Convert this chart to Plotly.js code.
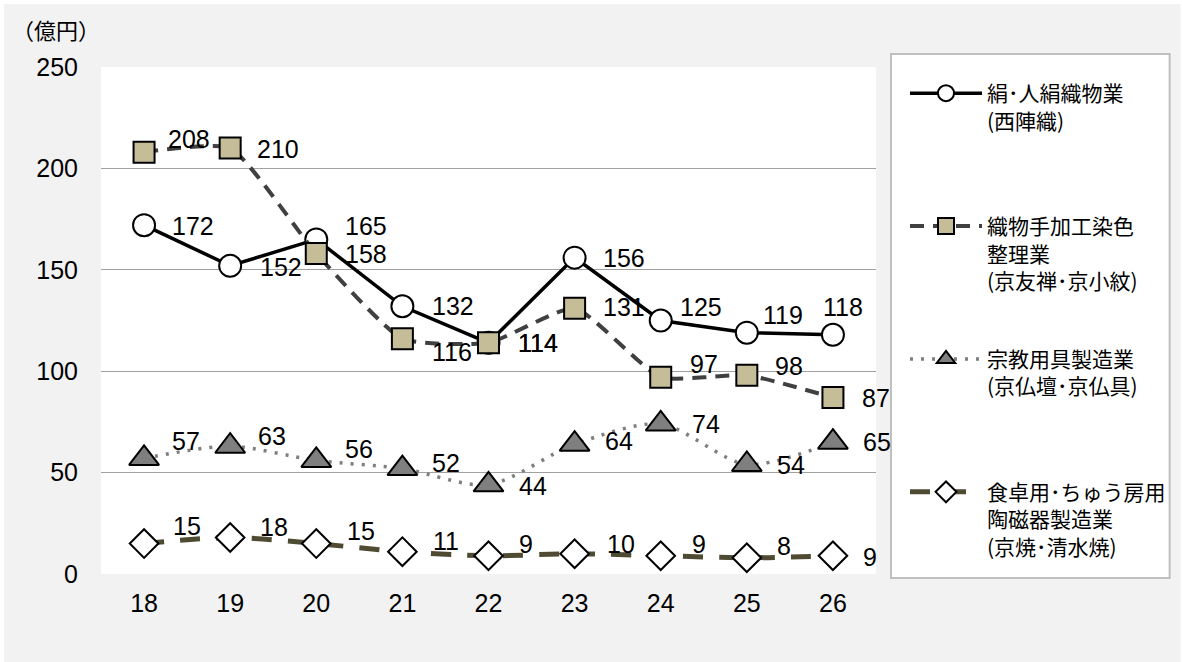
<!DOCTYPE html>
<html>
<head>
<meta charset="utf-8">
<script src="https://cdn.plot.ly/plotly-3.0.1.min.js"></script>
<style>
  html, body { margin: 0; padding: 0; background: #ffffff; }
  #chart { width: 1182px; height: 662px; }
</style>
</head>
<body>
<div id="chart"></div>
<script>
// 年度（平成）
const years = ['18', '19', '20', '21', '22', '23', '24', '25', '26'];

// 出荷額（億円）
const silk      = [172, 152, 165, 132, 114, 156, 125, 119, 118];
const dyeing    = [208, 210, 158, 116, 114, 131, 97, 98, 87];
const religious = [57, 63, 56, 52, 44, 64, 74, 54, 65];
const ceramics  = [15, 18, 15, 11, 9, 10, 9, 8, 9];

// 凡例の表記（各項目を3行の高さにそろえる）
const names = [
  '絹･人絹織物業<br>(西陣織)<br> ',
  '織物手加工染色<br>整理業<br>(京友禅･京小紋)',
  '宗教用具製造業<br>(京仏壇･京仏具)<br> ',
  '食卓用･ちゅう房用<br>陶磁器製造業<br>(京焼･清水焼)'
];

// 数値ラベルの位置（マーカー中心からの px：右方向, 下方向）
const labelOffsets = [
  [[28, 1], [30, 1], [29, -13], [30, 0], [29, 0], [28, 0], [19, -14], [16, -18], [-10, -28]],
  [[24, -13], [27, 1], [29, 0], [30, 13], [29, 0], [28, -1], [29, -13], [28, -9], [29, 0]],
  [[28, -17], [28, -10], [29, -11], [30, -6], [30, 1], [30, -3], [31, 0], [30, 1], [30, 0]],
  [[29, -18], [30, -11], [31, -13], [31, -11], [30, -12], [32, -10], [31, -12], [30, -12], [30, 1]]
];

const NUM_FONT = 'Liberation Sans, Arial, sans-serif';
const JP_FONT = '"Noto Sans CJK JP", sans-serif';

function series(values, name, group, line, marker) {
  return {
    type: 'scatter',
    mode: 'lines+markers',
    x: years,
    y: values,
    name: name,
    legendgroup: group,
    line: line,
    marker: marker,
    cliponaxis: false,
    hoverinfo: 'x+y'
  };
}

const allSeries = [silk, dyeing, religious, ceramics];

const traces = [
  series(silk, names[0], 'g1',
    { color: '#000000', width: 3.5 },
    { symbol: 'circle', size: 22, color: '#ffffff', line: { color: '#000000', width: 2 } }),
  series(dyeing, names[1], 'g2',
    { color: '#404040', width: 4, dash: '14px,9px', shape: 'spline', smoothing: 0.5 },
    { symbol: 'square', size: 21, color: '#c4bd97', line: { color: '#000000', width: 2 } }),
  series(religious, names[2], 'g3',
    { color: '#7f7f7f', width: 3.5, dash: '3px,8px', shape: 'spline', smoothing: 0.8 },
    { symbol: 'triangle-up', size: 26, color: '#7f7f7f', line: { color: '#000000', width: 2 } }),
  series(ceramics, names[3], 'g4',
    { color: '#4f4b32', width: 5, dash: '20px,16px', shape: 'spline', smoothing: 0.8 },
    { symbol: 'diamond', size: 22, color: '#ffffff', line: { color: '#000000', width: 2 } })
];

// 数値ラベル（カテゴリ軸上の位置は添字で指定）
const valueLabels = [];
allSeries.forEach((vals, s) => {
  vals.forEach((v, i) => {
    const [dx, dy] = labelOffsets[s][i];
    valueLabels.push({
      x: i, y: v, xref: 'x', yref: 'y',
      text: String(v),
      showarrow: false,
      xanchor: 'left', yanchor: 'middle',
      xshift: dx - 2, yshift: -dy,
      font: { family: NUM_FONT, size: 25, color: '#000000' }
    });
  });
});

// プロット領域（ピクセル）: x 101–877, y 67–574
const L = 101, W = 776, TOP = 67, H = 507, BOTTOM = 574;
const px = v => (v - L) / W;
const py = v => (BOTTOM - v) / H;

const layout = {
  width: 1182,
  height: 662,
  margin: { l: L, r: 1182 - L - W, t: TOP, b: 662 - BOTTOM },
  paper_bgcolor: '#ffffff',
  plot_bgcolor: '#ffffff',
  font: { family: NUM_FONT, color: '#000000' },
  showlegend: true,
  xaxis: {
    type: 'category',
    range: [-0.5, 8.5],
    showgrid: false,
    zeroline: false,
    showline: false,
    ticks: '',
    ticklabelstandoff: 12,
    tickfont: { family: NUM_FONT, size: 25, color: '#000000' },
    fixedrange: true
  },
  yaxis: {
    range: [0, 250],
    dtick: 50,
    showgrid: true,
    gridcolor: '#a0a0a0',
    gridwidth: 1.3,
    zeroline: false,
    showline: false,
    ticks: '',
    ticklabelstandoff: 22,
    tickfont: { family: NUM_FONT, size: 25, color: '#000000' },
    fixedrange: true
  },
  legend: {
    x: px(905),
    y: py(73),
    xanchor: 'left',
    yanchor: 'top',
    bgcolor: 'rgba(0,0,0,0)',
    borderwidth: 0,
    font: { family: JP_FONT, size: 21, color: '#000000' },
    itemwidth: 72,
    valign: 'top',
    tracegroupgap: 48,
    maxheight: 620,
    itemclick: false,
    itemdoubleclick: false
  },
  shapes: [
    {
      type: 'rect', xref: 'paper', yref: 'paper', layer: 'below',
      x0: px(4), x1: px(1182), y0: py(662), y1: py(4),
      fillcolor: '#f2f2f2', line: { width: 0 }
    },
    {
      type: 'rect', xref: 'paper', yref: 'paper', layer: 'below',
      x0: 0, x1: 1, y0: 0, y1: 1,
      fillcolor: '#ffffff', line: { width: 0 }
    },
    {
      // 凡例の枠
      type: 'rect', xref: 'paper', yref: 'paper', layer: 'below',
      x0: px(892), x1: px(1171), y0: py(578), y1: py(54),
      fillcolor: '#ffffff', line: { color: '#bfbfbf', width: 2 }
    }
  ],
  annotations: [
    {
      text: '（億円）',
      xref: 'paper', yref: 'paper',
      x: px(10), y: py(29),
      xanchor: 'left', yanchor: 'middle',
      showarrow: false,
      font: { family: JP_FONT, size: 22, color: '#000000' }
    }
  ].concat(valueLabels)
};

Plotly.newPlot('chart', traces, layout, { displayModeBar: false, staticPlot: true });
</script>
</body>
</html>
